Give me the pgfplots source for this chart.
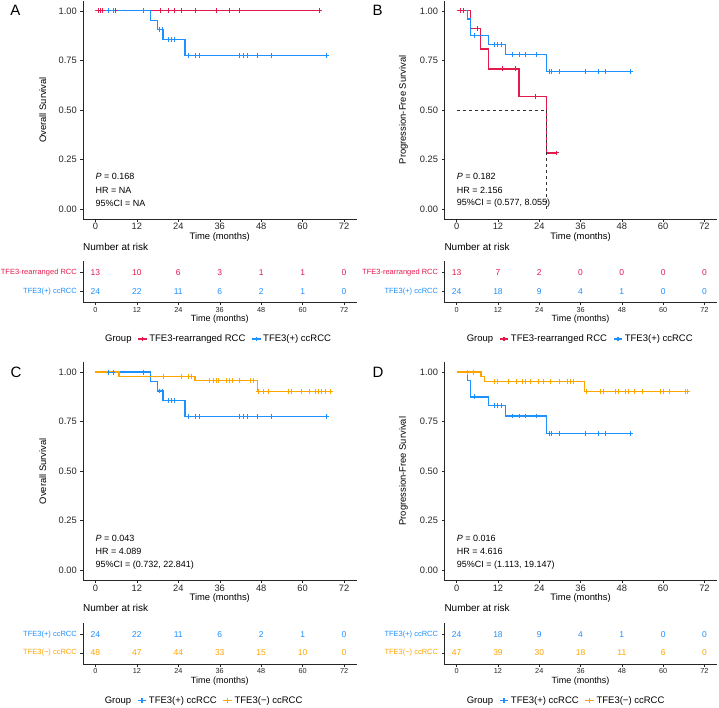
\documentclass[border=0pt]{standalone}
\usepackage{fontspec}
\setmainfont{Liberation Sans}
\usepackage{pgfplots}
\pgfplotsset{compat=1.18}
\definecolor{cR}{HTML}{E31A4C}
\definecolor{cB}{HTML}{1E90FF}
\definecolor{cO}{HTML}{FFA500}
\newcommand{\fs}[1]{\fontsize{#1}{#1}\selectfont}
\tikzset{ann/.style={anchor=west, inner sep=0pt, font=\fs{9}}}
\pgfplotsset{
  kmbase/.style={
    scale only axis, clip=false,
    xmin=-3.6, xmax=75.6,
    axis x line*=bottom, axis y line*=left,
    every outer x axis line/.append style={-},
    every outer y axis line/.append style={-},
    axis line style={line width=0.6pt, black!85},
    tick align=outside, major tick length=2.7pt,
    tick style={line width=0.5pt, black!85},
    xtick={0,12,24,36,48,60,72},
    xticklabels={0,12,24,36,48,60,72},
    xtick pos=left, ytick pos=left,
    xticklabel shift=-1.8pt,
  },
  kmmain/.style={
    kmbase, width=273.5pt, height=218pt,
    ymin=-0.05, ymax=1.05,
    ytick={0,0.25,0.5,0.75,1},
    yticklabels={0.00,0.25,0.50,0.75,1.00},
    tick label style={font=\fs{9.3}, text=black!85},
    xlabel={Time (months)},
    xlabel style={font=\fs{9.4}, at={(axis description cs:0.5,-0.082)}, anchor=center},
    ylabel style={font=\fs{9.4}, at={(axis description cs:-0.147,0.5)}, anchor=center},
    legend style={draw=none, fill=none, font=\fs{9.5}, legend columns=-1,
      /tikz/every even column/.append style={column sep=4pt}},
    legend image code/.code={\draw[##1, mark repeat=2, mark phase=2, mark=+, mark size=2.3pt, mark options={solid}] plot coordinates {(0pt,0pt) (4.25pt,0pt) (8.5pt,0pt)};},
  },
  kmtab/.style={
    kmbase, width=273.5pt, height=41.5pt,
    ymin=0.4, ymax=2.6, ytick={1,2},
    xticklabel style={font=\fs{7.3}, text=black!85},
    yticklabel style={font=\fs{7.5}},
    xlabel={Time (months)},
    xlabel style={font=\fs{9}, at={(axis description cs:0.5,-0.405)}, anchor=center},
    title={Number at risk},
    title style={font=\fs{10}, at={(axis description cs:0,1.207)}, anchor=west, inner sep=0pt},
  },
  num/.style={draw=none, mark=none, nodes near coords, point meta=explicit symbolic,
    nodes near coords style={anchor=center, font=\fs{8.5}, text=#1}},
  curve/.style={const plot, line width=1.3pt, mark=none, color=#1},
  cens/.style={only marks, mark=+, mark size=2.4pt, mark options={line width=0.9pt}, color=#1, forget plot},
}
\begin{document}
\begin{tikzpicture}[x=1pt,y=1pt]
\useasboundingbox (0,0) rectangle (719,707);
% panel letters
\node[font=\fs{15}] at (15.5,696.7) {A};
\node[font=\fs{15}] at (377.7,696.7) {B};
\node[font=\fs{15}] at (16,335) {C};
\node[font=\fs{15}] at (378,335) {D};

% ===== A main =====
\begin{axis}[kmmain, at={(83pt,488.1pt)}, anchor=south west, ylabel={Overall Survival},
  legend style={at={(axis description cs:0.494,-0.551)}, anchor=center}]
\addlegendimage{empty legend}\addlegendentry{Group}
\addplot[curve=cR] coordinates {(0,1) (64.8,1)};
\addlegendentry{TFE3-rearranged RCC}
\addplot[curve=cB] coordinates {(0,1) (15.9,0.952) (17.9,0.905) (19.6,0.855) (25.9,0.776) (67,0.776)};
\addlegendentry{TFE3(+) ccRCC}
\addplot[cens=cR] coordinates {(0.8,1) (1.4,1) (2.0,1) (5.9,1) (18.9,1) (21.0,1) (22.9,1) (24.9,1) (29.0,1) (35.1,1) (38.9,1) (41.8,1) (64.8,1)};
\addplot[cens=cB] coordinates {(3.9,1) (5.1,1) (14,1) (18.5,0.905) (19.3,0.905) (21,0.855) (22,0.855) (23,0.855) (27,0.776) (29,0.776) (30,0.776) (41.8,0.776) (43,0.776) (44,0.776) (46.9,0.776) (51,0.776) (67,0.776)};
\node[ann] at (axis cs:0,0.163) {\textit{P} = 0.168};
\node[ann] at (axis cs:0,0.093) {HR = NA};
\node[ann] at (axis cs:0,0.027) {95\%CI = NA};
\end{axis}
\begin{axis}[kmtab, at={(83pt,404.2pt)}, anchor=south west,
  yticklabels={{\color{cB}TFE3(+) ccRCC},{\color{cR}TFE3-rearranged RCC}}]
\addplot[num=cR] coordinates {(0,2)[13] (12,2)[10] (24,2)[6] (36,2)[3] (48,2)[1] (60,2)[1] (72,2)[0]};
\addplot[num=cB] coordinates {(0,1)[24] (12,1)[22] (24,1)[11] (36,1)[6] (48,1)[2] (60,1)[1] (72,1)[0]};
\end{axis}

% ===== B main =====
\begin{axis}[kmmain, width=272.5pt, at={(444.3pt,488.1pt)}, anchor=south west, ylabel={Progression-Free Survival},
  ylabel style={at={(axis description cs:-0.150,0.5)}},
  legend style={at={(axis description cs:0.497,-0.551)}, anchor=center}]
\addlegendimage{empty legend}\addlegendentry{Group}
\addplot[curve=cR] coordinates {(0,1) (4.1,0.909) (7.0,0.808) (9.2,0.707) (18.1,0.566) (26.0,0.283) (29.0,0.283)};
\addlegendentry{TFE3-rearranged RCC}
\addplot[curve=cB] coordinates {(0,1) (3.1,0.958) (4.1,0.875) (9.2,0.831) (14.1,0.779) (26.2,0.692) (50.4,0.692)};
\addlegendentry{TFE3(+) ccRCC}
\addplot[black!80, dashed, line width=0.5pt, forget plot] coordinates {(0,0.5) (26.0,0.5) (26.0,0)};
\addplot[cens=cR] coordinates {(1.0,1) (1.9,1) (6.0,0.909) (13.3,0.707) (17.0,0.707) (23.0,0.566) (29.0,0.283)};
\addplot[cens=cB] coordinates {(5.1,0.875) (10.9,0.831) (11.9,0.831) (12.9,0.831) (16.2,0.779) (18.2,0.779) (20.1,0.779) (23.1,0.779) (26.9,0.692) (27.6,0.692) (30.0,0.692) (37.3,0.692) (41.2,0.692) (43.1,0.692) (50.4,0.692)};
\node[ann] at (axis cs:0,0.163) {\textit{P} = 0.182};
\node[ann] at (axis cs:0,0.093) {HR = 2.156};
\node[ann] at (axis cs:0,0.027) {95\%CI = (0.577, 8.055)};
\end{axis}
\begin{axis}[kmtab, width=272.5pt, at={(444.3pt,404.2pt)}, anchor=south west,
  yticklabels={{\color{cB}TFE3(+) ccRCC},{\color{cR}TFE3-rearranged RCC}}]
\addplot[num=cR] coordinates {(0,2)[13] (12,2)[7] (24,2)[2] (36,2)[0] (48,2)[0] (60,2)[0] (72,2)[0]};
\addplot[num=cB] coordinates {(0,1)[24] (12,1)[18] (24,1)[9] (36,1)[4] (48,1)[1] (60,1)[0] (72,1)[0]};
\end{axis}

% ===== C main =====
\begin{axis}[kmmain, at={(83pt,126.8pt)}, anchor=south west, ylabel={Overall Survival},
  legend style={at={(axis description cs:0.441,-0.553)}, anchor=center}]
\addlegendimage{empty legend}\addlegendentry{Group}
\addplot[curve=cB] coordinates {(0,1) (15.9,0.952) (17.9,0.905) (19.6,0.855) (25.9,0.776) (67,0.776)};
\addlegendentry{TFE3(+) ccRCC}
\addplot[curve=cO] coordinates {(0,1) (6.8,0.979) (28.8,0.956) (46.9,0.903) (68.2,0.903)};
\addlegendentry{TFE3(−) ccRCC}
\addplot[cens=cB] coordinates {(3.9,1) (5.1,1) (14,1) (18.5,0.905) (19.3,0.905) (21,0.855) (22,0.855) (23,0.855) (27,0.776) (29,0.776) (30,0.776) (41.8,0.776) (43,0.776) (44,0.776) (46.9,0.776) (51,0.776) (67,0.776)};
\addplot[cens=cO] coordinates {(19.8,0.979) (24.9,0.979) (26.9,0.979) (27.8,0.979) (32.9,0.956) (34.1,0.956) (34.9,0.956) (35.7,0.956) (38.0,0.956) (38.7,0.956) (39.6,0.956) (41.8,0.956) (44.9,0.956) (45.9,0.956) (47.1,0.903) (48.6,0.903) (50.0,0.903) (55.8,0.903) (56.8,0.903) (59.7,0.903) (61.9,0.903) (63.6,0.903) (64.5,0.903) (65.5,0.903) (66.5,0.903) (68.2,0.903)};
\node[ann] at (axis cs:0,0.163) {\textit{P} = 0.043};
\node[ann] at (axis cs:0,0.093) {HR = 4.089};
\node[ann] at (axis cs:0,0.027) {95\%CI = (0.732, 22.841)};
\end{axis}
\begin{axis}[kmtab, at={(83pt,42.7pt)}, anchor=south west,
  yticklabels={{\color{cO}TFE3(−) ccRCC},{\color{cB}TFE3(+) ccRCC}}]
\addplot[num=cB] coordinates {(0,2)[24] (12,2)[22] (24,2)[11] (36,2)[6] (48,2)[2] (60,2)[1] (72,2)[0]};
\addplot[num=cO] coordinates {(0,1)[48] (12,1)[47] (24,1)[44] (36,1)[33] (48,1)[15] (60,1)[10] (72,1)[0]};
\end{axis}

% ===== D main =====
\begin{axis}[kmmain, width=272.5pt, at={(444.3pt,126.8pt)}, anchor=south west, ylabel={Progression-Free Survival},
  ylabel style={at={(axis description cs:-0.150,0.5)}},
  legend style={at={(axis description cs:0.445,-0.553)}, anchor=center}]
\addlegendimage{empty legend}\addlegendentry{Group}
\addplot[curve=cB] coordinates {(0,1) (3.1,0.958) (4.1,0.875) (9.2,0.831) (14.1,0.779) (26.2,0.692) (50.4,0.692)};
\addlegendentry{TFE3(+) ccRCC}
\addplot[curve=cO] coordinates {(0,1) (7.05,0.978) (8.0,0.953) (37.2,0.903) (67.1,0.903)};
\addlegendentry{TFE3(−) ccRCC}
\addplot[cens=cB] coordinates {(5.1,0.875) (10.9,0.831) (11.9,0.831) (12.9,0.831) (16.2,0.779) (18.2,0.779) (20.1,0.779) (23.1,0.779) (26.9,0.692) (27.6,0.692) (30.0,0.692) (37.3,0.692) (41.2,0.692) (43.1,0.692) (50.4,0.692)};
\addplot[cens=cO] coordinates {(3.1,1) (5.0,1) (10.9,0.953) (11.9,0.953) (15.0,0.953) (17.4,0.953) (19.1,0.953) (20.1,0.953) (21.3,0.953) (23.9,0.953) (25.1,0.953) (27.2,0.953) (30.0,0.953) (32.1,0.953) (33.0,0.953) (34.0,0.953) (37.7,0.903) (41.7,0.903) (42.7,0.903) (46.1,0.903) (47.1,0.903) (49.0,0.903) (49.8,0.903) (51.7,0.903) (53.9,0.903) (59.2,0.903) (60.2,0.903) (61.8,0.903) (66.5,0.903) (67.1,0.903)};
\node[ann] at (axis cs:0,0.163) {\textit{P} = 0.016};
\node[ann] at (axis cs:0,0.093) {HR = 4.616};
\node[ann] at (axis cs:0,0.027) {95\%CI = (1.113, 19.147)};
\end{axis}
\begin{axis}[kmtab, width=272.5pt, at={(444.3pt,42.7pt)}, anchor=south west,
  yticklabels={{\color{cO}TFE3(−) ccRCC},{\color{cB}TFE3(+) ccRCC}}]
\addplot[num=cB] coordinates {(0,2)[24] (12,2)[18] (24,2)[9] (36,2)[4] (48,2)[1] (60,2)[0] (72,2)[0]};
\addplot[num=cO] coordinates {(0,1)[47] (12,1)[39] (24,1)[30] (36,1)[18] (48,1)[11] (60,1)[6] (72,1)[0]};
\end{axis}
\end{tikzpicture}
\end{document}
